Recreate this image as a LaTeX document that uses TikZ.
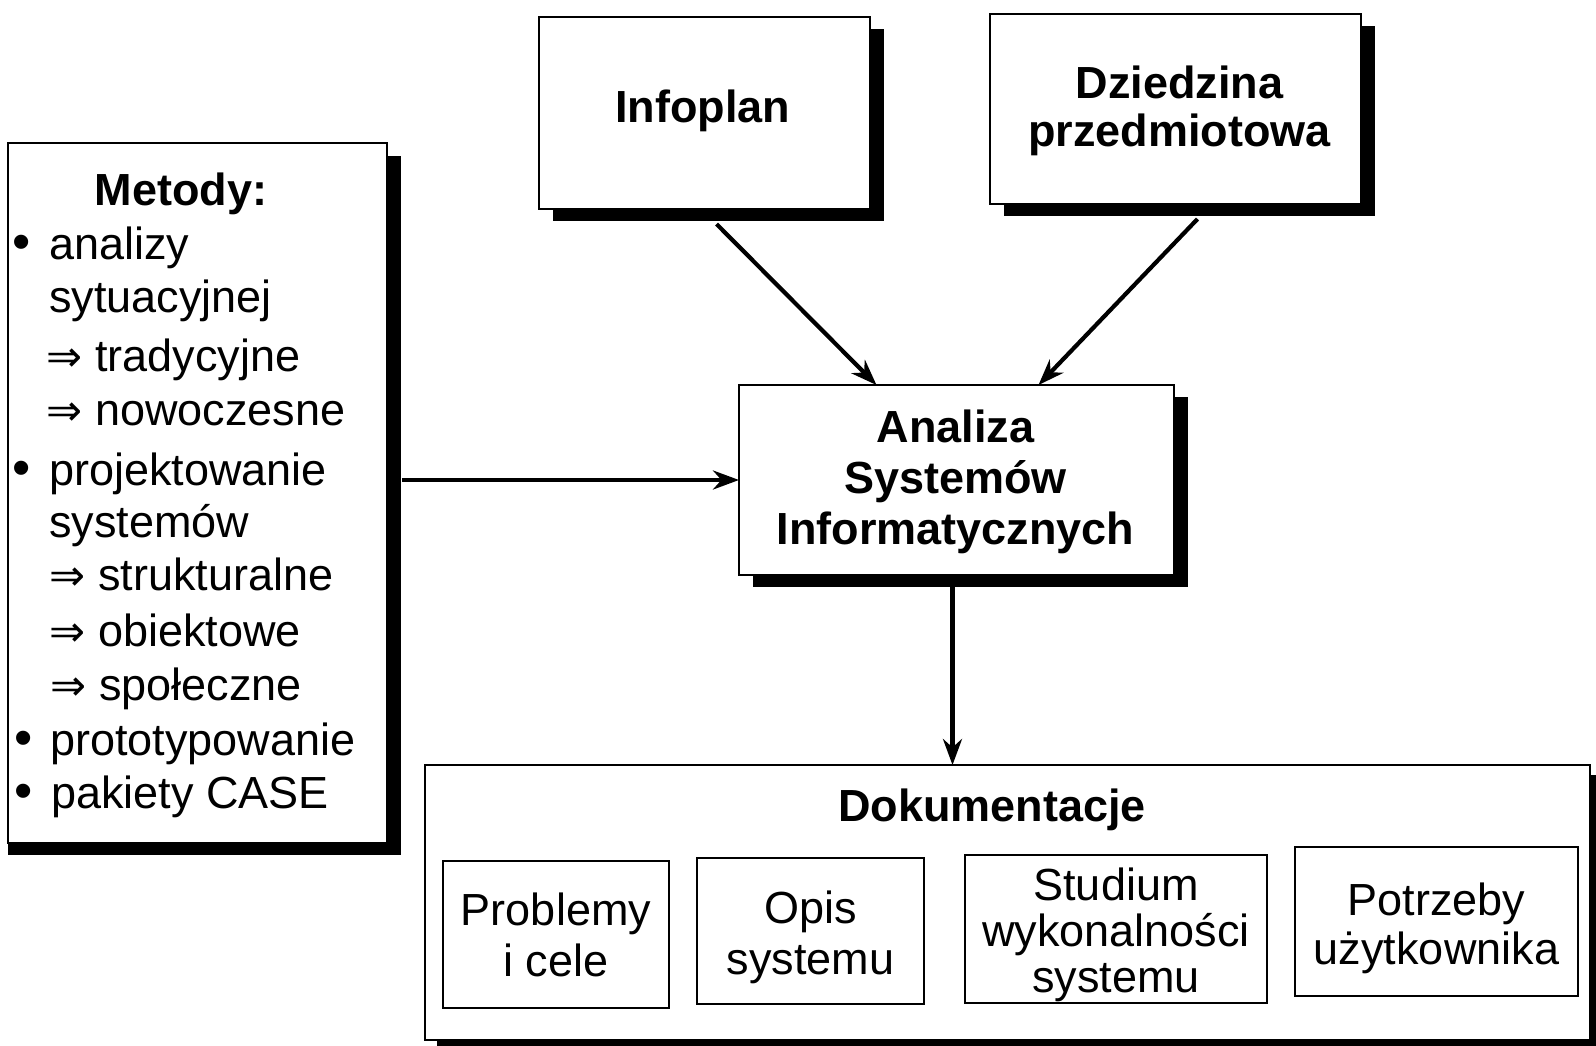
\documentclass[tikz,border=0pt]{standalone}
\usepackage{fontspec}
\setmainfont{Liberation Sans}
\newfontfamily\arrowfont{DejaVu Sans}
\usetikzlibrary{arrows.meta,calc,backgrounds}
\begin{document}
\begin{tikzpicture}[x=1pt,y=-1pt,
  box/.style={draw=black, line width=2pt, fill=white, inner sep=0pt, outer sep=0pt},
  boldtext/.style={inner sep=0pt, align=center, font=\fontsize{45}{51}\selectfont\bfseries},
  plaintext/.style={inner sep=0pt, align=center, font=\fontsize{45}{51}\selectfont},
  arr/.style={line width=4.2pt, -{Stealth[length=26pt,width=19pt]}},
  listline/.style={anchor=base west, inner sep=0pt, font=\fontsize{45}{51}\selectfont},
  bulletmark/.style={anchor=base west, inner sep=0pt, font=\fontsize{52}{51}\selectfont},
  implies/.style={anchor=base west, inner sep=0pt, font=\fontsize{43}{40}\arrowfont},
]
% main boxes
\node[box, minimum width=331pt, minimum height=192pt] (infoplan) at (704.5,113) {};
\node[box, minimum width=371pt, minimum height=190pt] (dziedzina) at (1175.5,109) {};
\node[box, minimum width=435pt, minimum height=190pt] (analiza) at (956.5,480) {};
\node[box, line width=1.5pt, minimum width=379pt, minimum height=700pt] (metody) at (197.5,493) {};
\node[box, minimum width=1165pt, minimum height=275pt] (dok) at (1007.5,902.5) {};

\node[boldtext] (infoplanT) at ($(infoplan.center)+(-2,-2)$) {Infoplan};
\node[boldtext, font=\fontsize{45}{48}\selectfont\bfseries] (dziedzinaT) at ($(dziedzina.center)+(4,2)$) {Dziedzina\\przedmiotowa};
\node[boldtext] (analizaT) at ($(analiza.center)+(-1,2)$) {Analiza\\Systemów\\Informatycznych};

% list of methods
\node[boldtext, anchor=base] (mtitle) at (181,205) {Metody:};
\node[bulletmark] (b1) at (12,259) {•};
\node[listline] (t1) at (49,259) {analizy};
\node[listline] (t2) at (49,312) {sytuacyjnej};
\node[implies] (a1) at (46,371) {⇒};
\node[listline] (t3) at (95,371) {tradycyjne};
\node[implies] (a2) at (46,425) {⇒};
\node[listline] (t4) at (95,425) {nowoczesne};
\node[bulletmark] (b2) at (12,485) {•};
\node[listline] (t5) at (49,485) {projektowanie};
\node[listline] (t6) at (49,537) {systemów};
\node[implies] (a3) at (49,590) {⇒};
\node[listline] (t7) at (98,590) {strukturalne};
\node[implies] (a4) at (49,646) {⇒};
\node[listline] (t8) at (98,646) {obiektowe};
\node[implies] (a5) at (50,700) {⇒};
\node[listline] (t9) at (99,700) {społeczne};
\node[bulletmark] (b3) at (14,755) {•};
\node[listline] (t10) at (50,755) {prototypowanie};
\node[bulletmark] (b4) at (14,808) {•};
\node[listline] (t11) at (51,808) {pakiety CASE};

% documentation contents
\node[boldtext] (doktitle) at (992,810) {Dokumentacje};
\node[box, minimum width=226pt, minimum height=147pt] (problemy) at (556,934.5) {};
\node[box, minimum width=227pt, minimum height=146pt] (opis) at (810.5,931) {};
\node[box, minimum width=302pt, minimum height=148pt] (studium) at (1116,929) {};
\node[box, minimum width=283pt, minimum height=149pt] (potrzeby) at (1436.5,921.5) {};
\node[plaintext] (problemyT) at ($(problemy.center)+(0,0)$) {Problemy\\i cele};
\node[plaintext] (opisT) at ($(opis.center)+(0,6)$) {Opis\\systemu};
\node[plaintext, font=\fontsize{45}{46}\selectfont] (studiumT) at ($(studium.center)+(0,6)$) {Studium\\wykonalności\\systemu};
\node[plaintext, font=\fontsize{45}{49}\selectfont] (potrzebyT) at ($(potrzeby.center)+(0,7)$) {Potrzeby\\użytkownika};

% connectors
\draw[arr] ($(infoplan.south)+(12,15)$) -- ($(analiza.north)+(-80,0)$);
\draw[arr] ($(dziedzina.south)+(22,15)$) -- ($(analiza.north)+(82,0)$);
\draw[arr] ($(metody.east |- analiza.west)+(15,0)$) -- (analiza.west);
\coordinate (aout) at ($(analiza.south)+(-4,10)$);
\draw[arr] (aout) -- (aout |- dok.north);

% drop shadows
\begin{pgfonlayer}{background}
\fill[white] (0,0) rectangle (1596,1046);
\foreach \n in {infoplan,dziedzina,analiza}
  \fill[black] ($(\n.north west)+(14,12)$) rectangle ($(\n.south east)+(14,12)$);
\fill[black] ($(metody.north west)+(0,13)$) rectangle ($(metody.south east)+(14,12)$);
\fill[black] ($(dok.north west)+(12,10)$) rectangle ($(dok.south east)+(12,10)$);
\end{pgfonlayer}

\pgfresetboundingbox
\useasboundingbox (0,0) rectangle (1596,1046);
\end{tikzpicture}
\end{document}
